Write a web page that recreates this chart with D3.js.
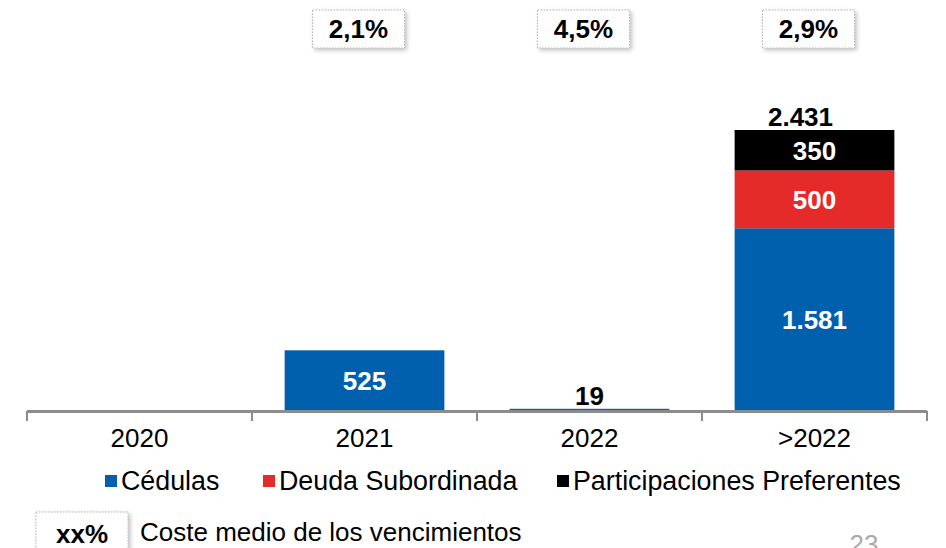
<!DOCTYPE html>
<html><head><meta charset="utf-8">
<script src="https://cdn.jsdelivr.net/npm/d3@7"></script>
<style>body{margin:0;background:#fff}svg{display:block;font-family:"Liberation Sans",Arial,sans-serif}</style>
</head><body><svg id="c" width="946" height="548"></svg>
<script>
const categories = ["2020","2021","2022",">2022"];
const seriesNames = ["Cédulas","Deuda Subordinada","Participaciones Preferentes"];
const cedulas = [0,525,19,1581];
const deuda = [0,0,0,500];
const participaciones = [0,0,0,350];
const totals = [0,525,19,2431];
const costLabels = [null,"2,1%","4,5%","2,9%"];
const colors = ["#0060AE","#E52A2A","#000000"];
const fmt = v => v.toLocaleString("de-DE");

const svg = d3.select("#c");
const x = d3.scaleBand().domain(categories).range([27,927]).paddingInner(0.29).paddingOuter(0.145);
const xTick = d3.scaleBand().domain(categories).range([27,927]);
const y = d3.scaleLinear().domain([0,2431]).range([411,130]);

const rows = categories.map((c,i)=>({cat:c,"Cédulas":cedulas[i],"Deuda Subordinada":deuda[i],"Participaciones Preferentes":participaciones[i]}));
const stack = d3.stack().keys(seriesNames)(rows);

const g = svg.append("g");
stack.forEach((s,si)=>{
  g.selectAll(null).data(s).join("rect")
    .attr("x",d=>x(d.data.cat)).attr("width",x.bandwidth())
    .attr("y",d=>y(d[1])).attr("height",d=>y(d[0])-y(d[1]))
    .attr("fill",colors[si]);
  g.selectAll(null).data(s.filter(d=>d[1]-d[0]>100)).join("text")
    .attr("x",d=>x(d.data.cat)+x.bandwidth()/2).attr("y",d=>(y(d[0])+y(d[1]))/2)
    .attr("dy","0.36em").attr("text-anchor","middle").attr("fill","#fff")
    .attr("font-weight","bold").attr("font-size",26)
    .text(d=>fmt(d[1]-d[0]));
});
categories.forEach((c,i)=>{
  const stackCount = [cedulas[i],deuda[i],participaciones[i]].filter(v=>v>0).length;
  if (totals[i]>0 && (totals[i]<100 || stackCount>1)) {
    svg.append("text").attr("x",x(c)+x.bandwidth()/2-(stackCount>1?14:0)).attr("y",y(totals[i])-4)
      .attr("text-anchor","middle").attr("font-weight","bold").attr("font-size",26).text(fmt(totals[i]));
  }
});

// axis
svg.append("line").attr("x1",27).attr("x2",927).attr("y1",411.5).attr("y2",411.5).attr("stroke","#8c8c8c").attr("stroke-width",3);
categories.concat(["end"]).forEach((c,i)=>{
  const xx = 27 + i*xTick.step();
  svg.append("line").attr("x1",xx).attr("x2",xx).attr("y1",411).attr("y2",421).attr("stroke","#8c8c8c").attr("stroke-width",2);
});
svg.selectAll(".cat").data(categories).join("text")
  .attr("x",d=>xTick(d)+xTick.bandwidth()/2).attr("y",447).attr("text-anchor","middle")
  .attr("font-size",26).attr("fill","#000").text(d=>d);

// cost boxes
const defs = svg.append("defs");
const f = defs.append("filter").attr("id","sh").attr("x","-20%").attr("y","-20%").attr("width","140%").attr("height","150%");
f.append("feDropShadow").attr("dx",2).attr("dy",2).attr("stdDeviation",2).attr("flood-color","#000").attr("flood-opacity",0.25);
function box(cx, yTop, w, h, label){
  svg.append("rect").attr("x",cx-w/2).attr("y",yTop).attr("width",w).attr("height",h)
    .attr("fill","#fff").attr("stroke","#b5b5b5").attr("stroke-dasharray","1.5,1.5").attr("filter","url(#sh)");
  svg.append("text").attr("x",cx).attr("y",yTop+h/2).attr("dy","0.36em").attr("text-anchor","middle")
    .attr("font-weight","bold").attr("font-size",26).text(label);
}
categories.forEach((c,i)=>{ if(costLabels[i]) box(x(c)+x.bandwidth()/2-6, 10, 92, 38, costLabels[i]); });

// legend
const legX = [105,263,557];
seriesNames.forEach((n,i)=>{
  svg.append("rect").attr("x",legX[i]).attr("y",475).attr("width",12).attr("height",12).attr("fill",colors[i]);
  svg.append("text").attr("x",legX[i]+16).attr("y",490).attr("font-size",26.8).text(n);
});

// bottom note
box(82, 512, 92, 44, "xx%");
svg.append("text").attr("x",140).attr("y",541).attr("font-size",26).text("Coste medio de los vencimientos");
svg.append("text").attr("x",864).attr("y",553).attr("text-anchor","middle").attr("font-size",26).attr("fill","#aaa").text("23");
</script></body></html>
